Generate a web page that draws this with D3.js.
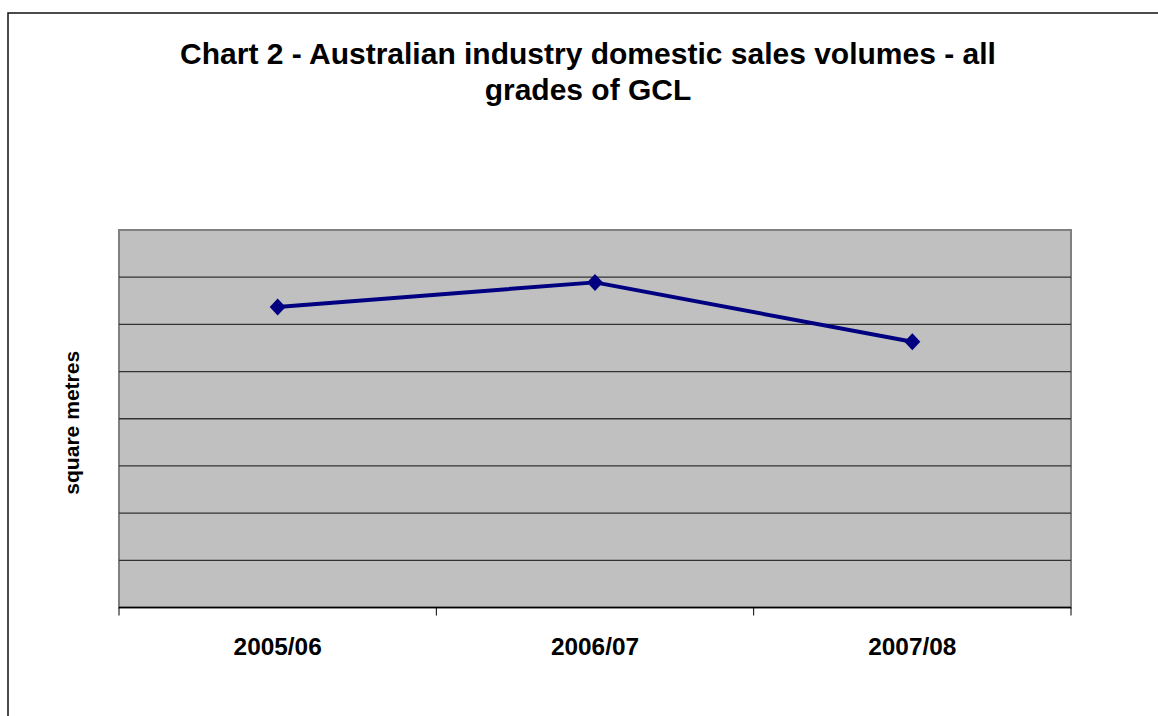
<!DOCTYPE html>
<html>
<head>
<meta charset="utf-8">
<script src="https://cdn.jsdelivr.net/npm/d3@7"></script>
<style>
  html, body { margin: 0; padding: 0; background: #fff; }
  svg { display: block; }
</style>
</head>
<body>
<script>
// ---- data ----
const titleLines = ["Chart 2 - Australian industry domestic sales volumes - all", "grades of GCL"];
const yAxisTitle = "square metres";
const categories = ["2005/06", "2006/07", "2007/08"];
const salesVolumes = [6.37, 6.89, 5.63];   // values hidden in source; read relative to gridlines
const yTicks = [0, 1, 2, 3, 4, 5, 6, 7, 8];

const W = 1158, H = 716;
const plot = { left: 119, top: 230, right: 1071, bottom: 607.5 };
const FONT = "Liberation Sans, Arial, sans-serif";

const svg = d3.select("body").append("svg").attr("width", W).attr("height", H);

// outer chart border (cut off at right/bottom)
svg.append("rect").attr("x", 8).attr("y", 13).attr("width", W + 20).attr("height", H + 20)
  .attr("fill", "#fff").attr("stroke", "#111").attr("stroke-width", 1.5);

const x = d3.scaleBand().domain(categories).range([plot.left, plot.right]);
const y = d3.scaleLinear().domain([0, 8]).range([plot.bottom, plot.top]);

// plot background
svg.append("rect").attr("x", plot.left).attr("y", plot.top)
  .attr("width", plot.right - plot.left).attr("height", plot.bottom - plot.top)
  .attr("fill", "#c0c0c0").attr("stroke", "#808080").attr("stroke-width", 2);

// gridlines
svg.append("g").selectAll("line").data(yTicks.slice(1, -1)).join("line")
  .attr("x1", plot.left).attr("x2", plot.right)
  .attr("y1", d => y(d)).attr("y2", d => y(d))
  .attr("stroke", "#333").attr("stroke-width", 1.3);

// x axis
const gx = svg.append("g").attr("transform", `translate(0,${plot.bottom})`);
gx.append("line").attr("x1", plot.left).attr("x2", plot.right).attr("y1", 0).attr("y2", 0)
  .attr("stroke", "#000").attr("stroke-width", 1.6);
const boundaries = categories.map(c => x(c)).concat([plot.right]);
gx.selectAll("line.tk").data(boundaries).join("line").attr("class", "tk")
  .attr("x1", d => d).attr("x2", d => d).attr("y1", 0).attr("y2", 8)
  .attr("stroke", "#000").attr("stroke-width", 1);
gx.selectAll("text.lbl").data(categories).join("text").attr("class", "lbl")
  .attr("x", d => x(d) + x.bandwidth() / 2).attr("y", 47.5)
  .attr("text-anchor", "middle")
  .attr("font-family", FONT)
  .attr("font-weight", "bold").attr("font-size", 24.4)
  .text(d => d);

// y-axis title
svg.append("text")
  .attr("transform", `translate(79,${(plot.top + plot.bottom) / 2 + 4}) rotate(-90)`)
  .attr("text-anchor", "middle")
  .attr("font-family", FONT)
  .attr("font-weight", "bold").attr("font-size", 20)
  .attr("textLength", 144).attr("lengthAdjust", "spacingAndGlyphs")
  .text(yAxisTitle);

// title
svg.append("g").selectAll("text").data(titleLines).join("text")
  .attr("x", 588).attr("y", (d, i) => 64 + i * 36.3)
  .attr("text-anchor", "middle")
  .attr("font-family", FONT)
  .attr("font-weight", "bold").attr("font-size", 30)
  .text(d => d);

// line
const line = d3.line().x((d, i) => x(categories[i]) + x.bandwidth() / 2).y(d => y(d));
svg.append("path").datum(salesVolumes).attr("d", line)
  .attr("fill", "none").attr("stroke", "#000080").attr("stroke-width", 4)
  .attr("stroke-linejoin", "round");

// diamond markers
svg.append("g").selectAll("path").data(salesVolumes).join("path")
  .attr("transform", (d, i) => `translate(${x(categories[i]) + x.bandwidth() / 2},${y(d)})`)
  .attr("d", "M0,-8.5L8,0L0,8.5L-8,0Z")
  .attr("fill", "#000080");
</script>
</body>
</html>
